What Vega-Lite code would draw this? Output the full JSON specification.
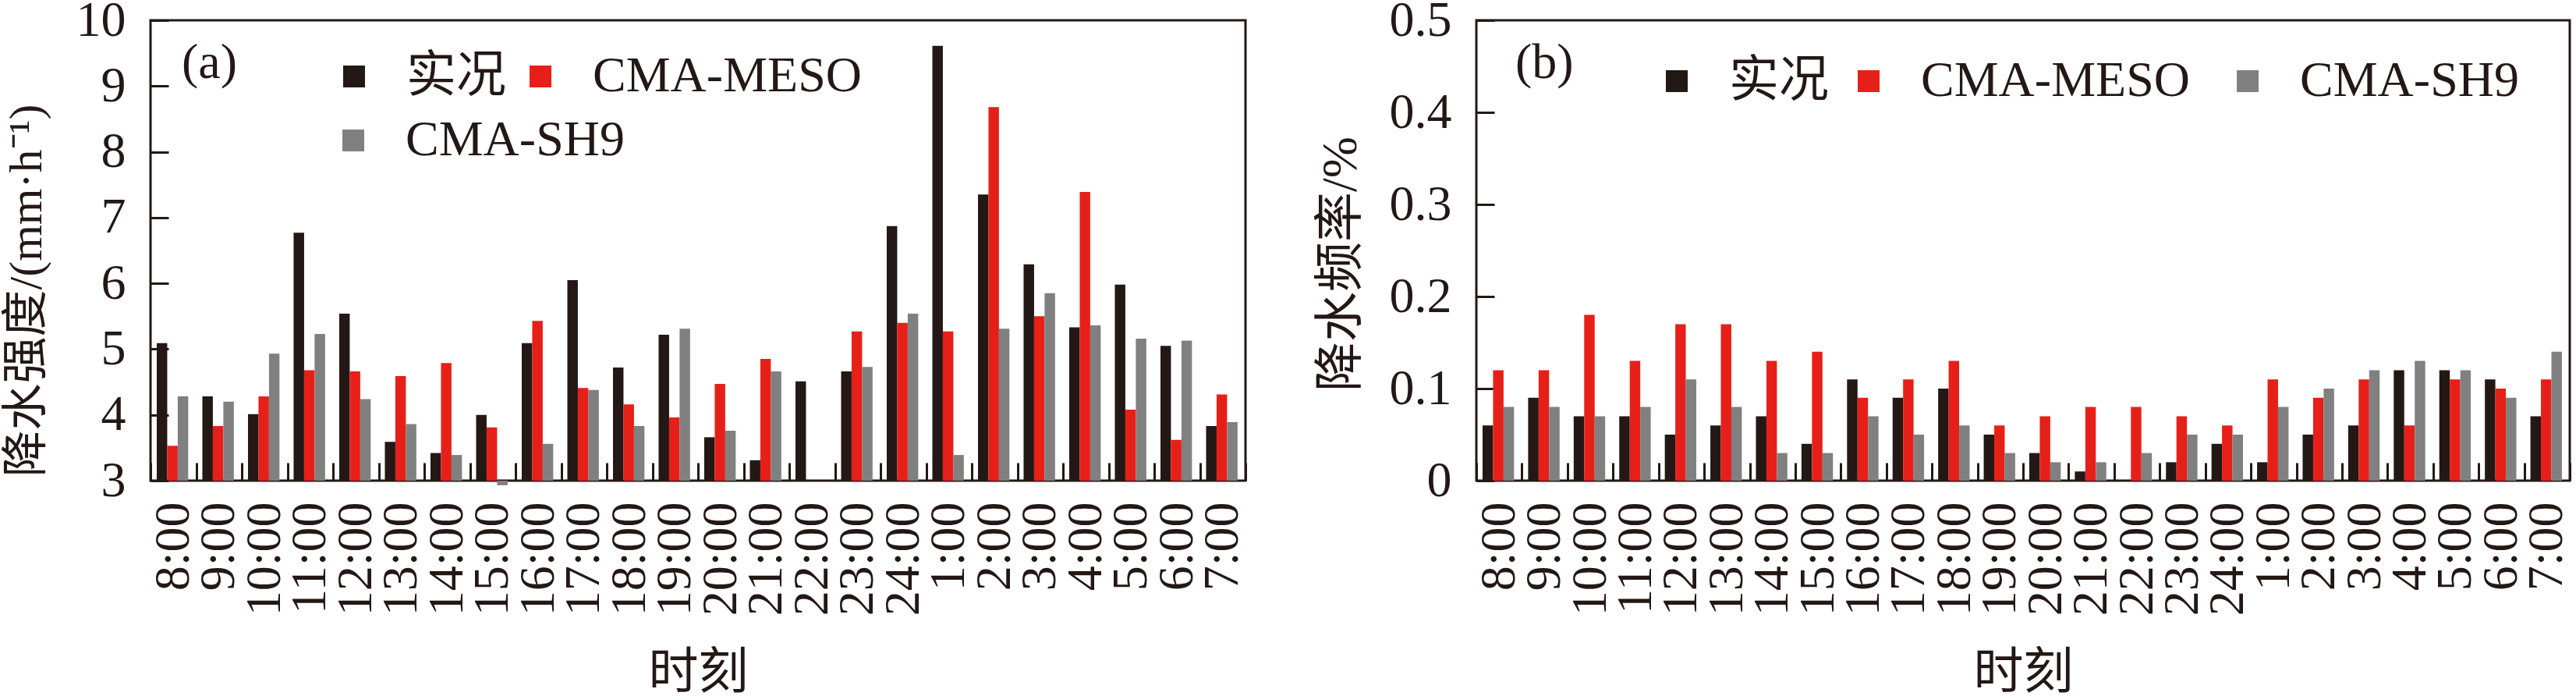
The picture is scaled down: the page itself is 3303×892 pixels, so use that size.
{
  "$schema": "https://vega.github.io/schema/vega-lite/v6.json",
  "background": "white",
  "padding": {"left": 2, "top": -8, "right": 0, "bottom": 0},
  "bounds": "flush",
  "spacing": 296,
  "config": {
    "view": {"stroke": "#231815", "strokeWidth": 3},
    "axis": {
      "domain": false,
      "tickColor": "#231815", "tickWidth": 3, "tickSize": 23, "offset": -23,
      "labelColor": "#231815", "titleColor": "#231815",
      "labelFont": "Liberation Serif", "labelFontSize": 64,
      "titleFont": "Liberation Serif, Noto Sans CJK SC", "titleFontSize": 64, "titleFontWeight": "normal",
      "grid": false
    },
    "legend": {
      "title": null,
      "orient": "none",
      "direction": "horizontal",
      "symbolType": "square",
      "symbolSize": 784,
      "symbolStrokeWidth": 0,
      "symbolOpacity": 1,
      "labelFont": "Liberation Serif, Noto Sans CJK SC",
      "labelFontSize": 64,
      "labelColor": "#231815",
      "labelOffset": 35,
      "labelLimit": 1000
    },
    "title": {
      "font": "Liberation Serif", "fontSize": 64, "fontWeight": "normal",
      "color": "#231815", "anchor": "start", "frame": "group", "baseline": "alphabetic"
    }
  },
  "datasets": {
    "a": [
      {"t": "8:00", "m": "实况", "v": 5.09}, {"t": "8:00", "m": "CMA-MESO", "v": 3.53}, {"t": "8:00", "m": "CMA-SH9", "v": 4.28},
      {"t": "9:00", "m": "实况", "v": 4.28}, {"t": "9:00", "m": "CMA-MESO", "v": 3.83}, {"t": "9:00", "m": "CMA-SH9", "v": 4.20},
      {"t": "10:00", "m": "实况", "v": 4.01}, {"t": "10:00", "m": "CMA-MESO", "v": 4.28}, {"t": "10:00", "m": "CMA-SH9", "v": 4.93},
      {"t": "11:00", "m": "实况", "v": 6.77}, {"t": "11:00", "m": "CMA-MESO", "v": 4.68}, {"t": "11:00", "m": "CMA-SH9", "v": 5.23},
      {"t": "12:00", "m": "实况", "v": 5.54}, {"t": "12:00", "m": "CMA-MESO", "v": 4.66}, {"t": "12:00", "m": "CMA-SH9", "v": 4.24},
      {"t": "13:00", "m": "实况", "v": 3.59}, {"t": "13:00", "m": "CMA-MESO", "v": 4.59}, {"t": "13:00", "m": "CMA-SH9", "v": 3.86},
      {"t": "14:00", "m": "实况", "v": 3.42}, {"t": "14:00", "m": "CMA-MESO", "v": 4.79}, {"t": "14:00", "m": "CMA-SH9", "v": 3.39},
      {"t": "15:00", "m": "实况", "v": 4.00}, {"t": "15:00", "m": "CMA-MESO", "v": 3.81}, {"t": "15:00", "m": "CMA-SH9", "v": 2.93},
      {"t": "16:00", "m": "实况", "v": 5.09}, {"t": "16:00", "m": "CMA-MESO", "v": 5.43}, {"t": "16:00", "m": "CMA-SH9", "v": 3.56},
      {"t": "17:00", "m": "实况", "v": 6.05}, {"t": "17:00", "m": "CMA-MESO", "v": 4.41}, {"t": "17:00", "m": "CMA-SH9", "v": 4.38},
      {"t": "18:00", "m": "实况", "v": 4.72}, {"t": "18:00", "m": "CMA-MESO", "v": 4.16}, {"t": "18:00", "m": "CMA-SH9", "v": 3.83},
      {"t": "19:00", "m": "实况", "v": 5.22}, {"t": "19:00", "m": "CMA-MESO", "v": 3.96}, {"t": "19:00", "m": "CMA-SH9", "v": 5.31},
      {"t": "20:00", "m": "实况", "v": 3.66}, {"t": "20:00", "m": "CMA-MESO", "v": 4.47}, {"t": "20:00", "m": "CMA-SH9", "v": 3.76},
      {"t": "21:00", "m": "实况", "v": 3.31}, {"t": "21:00", "m": "CMA-MESO", "v": 4.85}, {"t": "21:00", "m": "CMA-SH9", "v": 4.66},
      {"t": "22:00", "m": "实况", "v": 4.51},
      {"t": "23:00", "m": "实况", "v": 4.66}, {"t": "23:00", "m": "CMA-MESO", "v": 5.27}, {"t": "23:00", "m": "CMA-SH9", "v": 4.73},
      {"t": "24:00", "m": "实况", "v": 6.87}, {"t": "24:00", "m": "CMA-MESO", "v": 5.40}, {"t": "24:00", "m": "CMA-SH9", "v": 5.54},
      {"t": "1:00", "m": "实况", "v": 9.61}, {"t": "1:00", "m": "CMA-MESO", "v": 5.27}, {"t": "1:00", "m": "CMA-SH9", "v": 3.39},
      {"t": "2:00", "m": "实况", "v": 7.35}, {"t": "2:00", "m": "CMA-MESO", "v": 8.68}, {"t": "2:00", "m": "CMA-SH9", "v": 5.31},
      {"t": "3:00", "m": "实况", "v": 6.29}, {"t": "3:00", "m": "CMA-MESO", "v": 5.50}, {"t": "3:00", "m": "CMA-SH9", "v": 5.85},
      {"t": "4:00", "m": "实况", "v": 5.33}, {"t": "4:00", "m": "CMA-MESO", "v": 7.39}, {"t": "4:00", "m": "CMA-SH9", "v": 5.36},
      {"t": "5:00", "m": "实况", "v": 5.98}, {"t": "5:00", "m": "CMA-MESO", "v": 4.08}, {"t": "5:00", "m": "CMA-SH9", "v": 5.16},
      {"t": "6:00", "m": "实况", "v": 5.05}, {"t": "6:00", "m": "CMA-MESO", "v": 3.62}, {"t": "6:00", "m": "CMA-SH9", "v": 5.13},
      {"t": "7:00", "m": "实况", "v": 3.83}, {"t": "7:00", "m": "CMA-MESO", "v": 4.31}, {"t": "7:00", "m": "CMA-SH9", "v": 3.89}
    ],
    "b": [
      {"t": "8:00", "m": "实况", "v": 0.06}, {"t": "8:00", "m": "CMA-MESO", "v": 0.12}, {"t": "8:00", "m": "CMA-SH9", "v": 0.08},
      {"t": "9:00", "m": "实况", "v": 0.09}, {"t": "9:00", "m": "CMA-MESO", "v": 0.12}, {"t": "9:00", "m": "CMA-SH9", "v": 0.08},
      {"t": "10:00", "m": "实况", "v": 0.07}, {"t": "10:00", "m": "CMA-MESO", "v": 0.18}, {"t": "10:00", "m": "CMA-SH9", "v": 0.07},
      {"t": "11:00", "m": "实况", "v": 0.07}, {"t": "11:00", "m": "CMA-MESO", "v": 0.13}, {"t": "11:00", "m": "CMA-SH9", "v": 0.08},
      {"t": "12:00", "m": "实况", "v": 0.05}, {"t": "12:00", "m": "CMA-MESO", "v": 0.17}, {"t": "12:00", "m": "CMA-SH9", "v": 0.11},
      {"t": "13:00", "m": "实况", "v": 0.06}, {"t": "13:00", "m": "CMA-MESO", "v": 0.17}, {"t": "13:00", "m": "CMA-SH9", "v": 0.08},
      {"t": "14:00", "m": "实况", "v": 0.07}, {"t": "14:00", "m": "CMA-MESO", "v": 0.13}, {"t": "14:00", "m": "CMA-SH9", "v": 0.03},
      {"t": "15:00", "m": "实况", "v": 0.04}, {"t": "15:00", "m": "CMA-MESO", "v": 0.14}, {"t": "15:00", "m": "CMA-SH9", "v": 0.03},
      {"t": "16:00", "m": "实况", "v": 0.11}, {"t": "16:00", "m": "CMA-MESO", "v": 0.09}, {"t": "16:00", "m": "CMA-SH9", "v": 0.07},
      {"t": "17:00", "m": "实况", "v": 0.09}, {"t": "17:00", "m": "CMA-MESO", "v": 0.11}, {"t": "17:00", "m": "CMA-SH9", "v": 0.05},
      {"t": "18:00", "m": "实况", "v": 0.10}, {"t": "18:00", "m": "CMA-MESO", "v": 0.13}, {"t": "18:00", "m": "CMA-SH9", "v": 0.06},
      {"t": "19:00", "m": "实况", "v": 0.05}, {"t": "19:00", "m": "CMA-MESO", "v": 0.06}, {"t": "19:00", "m": "CMA-SH9", "v": 0.03},
      {"t": "20:00", "m": "实况", "v": 0.03}, {"t": "20:00", "m": "CMA-MESO", "v": 0.07}, {"t": "20:00", "m": "CMA-SH9", "v": 0.02},
      {"t": "21:00", "m": "实况", "v": 0.01}, {"t": "21:00", "m": "CMA-MESO", "v": 0.08}, {"t": "21:00", "m": "CMA-SH9", "v": 0.02},
      {"t": "22:00", "m": "实况", "v": 0.0}, {"t": "22:00", "m": "CMA-MESO", "v": 0.08}, {"t": "22:00", "m": "CMA-SH9", "v": 0.03},
      {"t": "23:00", "m": "实况", "v": 0.02}, {"t": "23:00", "m": "CMA-MESO", "v": 0.07}, {"t": "23:00", "m": "CMA-SH9", "v": 0.05},
      {"t": "24:00", "m": "实况", "v": 0.04}, {"t": "24:00", "m": "CMA-MESO", "v": 0.06}, {"t": "24:00", "m": "CMA-SH9", "v": 0.05},
      {"t": "1:00", "m": "实况", "v": 0.02}, {"t": "1:00", "m": "CMA-MESO", "v": 0.11}, {"t": "1:00", "m": "CMA-SH9", "v": 0.08},
      {"t": "2:00", "m": "实况", "v": 0.05}, {"t": "2:00", "m": "CMA-MESO", "v": 0.09}, {"t": "2:00", "m": "CMA-SH9", "v": 0.10},
      {"t": "3:00", "m": "实况", "v": 0.06}, {"t": "3:00", "m": "CMA-MESO", "v": 0.11}, {"t": "3:00", "m": "CMA-SH9", "v": 0.12},
      {"t": "4:00", "m": "实况", "v": 0.12}, {"t": "4:00", "m": "CMA-MESO", "v": 0.06}, {"t": "4:00", "m": "CMA-SH9", "v": 0.13},
      {"t": "5:00", "m": "实况", "v": 0.12}, {"t": "5:00", "m": "CMA-MESO", "v": 0.11}, {"t": "5:00", "m": "CMA-SH9", "v": 0.12},
      {"t": "6:00", "m": "实况", "v": 0.11}, {"t": "6:00", "m": "CMA-MESO", "v": 0.10}, {"t": "6:00", "m": "CMA-SH9", "v": 0.09},
      {"t": "7:00", "m": "实况", "v": 0.07}, {"t": "7:00", "m": "CMA-MESO", "v": 0.11}, {"t": "7:00", "m": "CMA-SH9", "v": 0.14}
    ]
  },
  "resolve": {
    "scale": {"color": "independent", "fill": "independent", "stroke": "independent"},
    "legend": {"color": "independent", "fill": "independent", "stroke": "independent"}
  },
  "hconcat": [
    {
      "width": 1404,
      "height": 590,
      "data": {"name": "a"},
      "title": {"text": "(a)", "offset": -119, "dx": 40},
      "encoding": {
        "x": {
          "field": "t", "type": "nominal",
          "sort": ["8:00","9:00","10:00","11:00","12:00","13:00","14:00","15:00","16:00","17:00","18:00","19:00","20:00","21:00","22:00","23:00","24:00","1:00","2:00","3:00","4:00","5:00","6:00","7:00"],
          "scale": {"paddingInner": 0, "paddingOuter": 0},
          "axis": {"title": "时刻", "labelAngle": -90, "tickBand": "extent", "labelPadding": 27, "titlePadding": 42}
        },
        "xOffset": {
          "field": "m", "type": "nominal",
          "scale": {"domain": ["实况", "CMA-MESO", "CMA-SH9"], "paddingInner": 0, "paddingOuter": 0.674, "align": 0.44}
        },
        "y": {
          "field": "v", "type": "quantitative",
          "scale": {"domain": [3, 10], "nice": false, "zero": false},
          "axis": {"title": "降水强度/(mm·h⁻¹)", "titleFontSize": 60, "titleY": 346, "values": [3,4,5,6,7,8,9,10], "labelPadding": 32, "titlePadding": 32}
        },
        "y2": {"datum": 3}
      },
      "layer": [
        {
          "transform": [{"filter": "datum.m === '实况'"}],
          "mark": {"type": "bar"},
          "encoding": {
            "color": {"field": "m", "type": "nominal",
              "scale": {"domain": ["实况"], "range": ["#231815"]},
              "legend": {"legendX": 229, "legendY": 40}}
          }
        },
        {
          "transform": [{"filter": "datum.m === 'CMA-MESO'"}],
          "mark": {"type": "bar"},
          "encoding": {
            "fill": {"field": "m", "type": "nominal",
              "scale": {"domain": ["CMA-MESO"], "range": ["#e62019"]},
              "legend": {"legendX": 468, "legendY": 40}}
          }
        },
        {
          "transform": [{"filter": "datum.m === 'CMA-SH9'"}],
          "mark": {"type": "bar", "fill": "#808080", "strokeWidth": 0},
          "encoding": {
            "stroke": {"field": "m", "type": "nominal",
              "scale": {"domain": ["CMA-SH9"], "range": ["#808080"]},
              "legend": {"legendX": 228, "legendY": 122, "symbolFillColor": "#808080"}}
          }
        }
      ]
    },
    {
      "width": 1402,
      "height": 590,
      "data": {"name": "b"},
      "title": {"text": "(b)", "offset": -119, "dx": 50},
      "encoding": {
        "x": {
          "field": "t", "type": "nominal",
          "sort": ["8:00","9:00","10:00","11:00","12:00","13:00","14:00","15:00","16:00","17:00","18:00","19:00","20:00","21:00","22:00","23:00","24:00","1:00","2:00","3:00","4:00","5:00","6:00","7:00"],
          "scale": {"paddingInner": 0, "paddingOuter": 0},
          "axis": {"title": "时刻", "labelAngle": -90, "tickBand": "extent", "labelPadding": 27, "titlePadding": 42}
        },
        "xOffset": {
          "field": "m", "type": "nominal",
          "scale": {"domain": ["实况", "CMA-MESO", "CMA-SH9"], "paddingInner": 0, "paddingOuter": 0.674, "align": 0.44}
        },
        "y": {
          "field": "v", "type": "quantitative",
          "scale": {"domain": [0, 0.5], "nice": false},
          "axis": {"title": "降水频率/%", "titleFontSize": 64, "titleY": 312, "values": [0, 0.1, 0.2, 0.3, 0.4, 0.5], "format": ".1~f", "labelPadding": 32, "titlePadding": 30}
        }
      },
      "layer": [
        {
          "transform": [{"filter": "datum.m === '实况'"}],
          "mark": {"type": "bar"},
          "encoding": {
            "color": {"field": "m", "type": "nominal",
              "scale": {"domain": ["实况"], "range": ["#231815"]},
              "legend": {"legendX": 225, "legendY": 46}}
          }
        },
        {
          "transform": [{"filter": "datum.m === 'CMA-MESO'"}],
          "mark": {"type": "bar"},
          "encoding": {
            "fill": {"field": "m", "type": "nominal",
              "scale": {"domain": ["CMA-MESO"], "range": ["#e62019"]},
              "legend": {"legendX": 471, "legendY": 46}}
          }
        },
        {
          "transform": [{"filter": "datum.m === 'CMA-SH9'"}],
          "mark": {"type": "bar", "fill": "#808080", "strokeWidth": 0},
          "encoding": {
            "stroke": {"field": "m", "type": "nominal",
              "scale": {"domain": ["CMA-SH9"], "range": ["#808080"]},
              "legend": {"legendX": 957, "legendY": 46, "symbolFillColor": "#808080"}}
          }
        }
      ]
    }
  ]
}
